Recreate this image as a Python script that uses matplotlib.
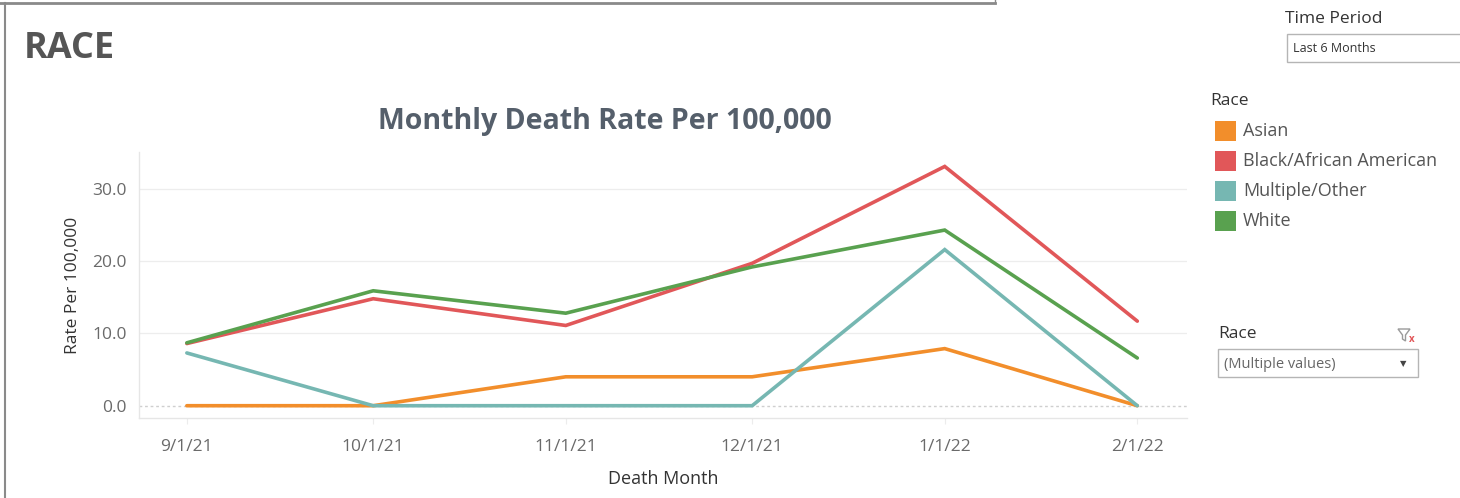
import matplotlib as mpl
mpl.use('Agg')
import matplotlib.pyplot as plt
from matplotlib.lines import Line2D
from matplotlib.patches import Rectangle, Polygon
import datetime as dt

plt.rcParams['font.family'] = ['Open Sans', 'DejaVu Sans']

# data
months = ['2021-09-01', '2021-10-01', '2021-11-01', '2021-12-01', '2022-01-01', '2022-02-01']
tickLabels = ['9/1/21', '10/1/21', '11/1/21', '12/1/21', '1/1/22', '2/1/22']
races = ['Asian', 'Black/African American', 'Multiple/Other', 'White']
asian = [0.0, 0.0, 4.0, 4.0, 7.9, 0.0]
black = [8.6, 14.8, 11.1, 19.7, 33.1, 11.7]
multiple = [7.3, 0.0, 0.0, 0.0, 21.6, 0.0]
white = [8.7, 15.9, 12.8, 19.2, 24.3, 6.6]
colors = ['#f28e2b', '#e15759', '#76b7b2', '#59a14f']

dates = [dt.datetime.strptime(m, '%Y-%m-%d') for m in months]

W, H = 1460.0, 498.0
def fx(px):
    return px / W
def fy(py):
    return 1 - py / H

fig = plt.figure(figsize=(14.6, 4.98), dpi=100)
ax = fig.add_axes([fx(139), fy(418), fx(1187 - 139), (418 - 152) / H])

for vals, c in zip([asian, black, multiple, white], colors):
    ax.plot(dates, vals, color=c, linewidth=2.6, solid_capstyle='round', solid_joinstyle='miter')

ax.set_ylim(-1.7, 35.1)
ax.set_xlim(dates[0] - dt.timedelta(days=7.7), dates[-1] + dt.timedelta(days=8))
ax.set_yticks([0, 10, 20, 30])
ax.set_yticklabels(['0.0', '10.0', '20.0', '30.0'])
ax.set_xticks(dates)
ax.set_xticklabels(tickLabels)
ax.tick_params(axis='y', length=0, pad=9, labelsize=12.5, labelcolor='#6a6a6a')
ax.tick_params(axis='x', length=4, color='#ececec', pad=11, labelsize=12.5, labelcolor='#6a6a6a')
for y in [10, 20, 30]:
    ax.axhline(y, color='#ededed', linewidth=0.9, zorder=0)
ax.axhline(0, color='#cfcfcf', linewidth=1.0, linestyle=(0, (2, 2)), zorder=0)
for s in ['top', 'right']:
    ax.spines[s].set_visible(False)
for s in ['left', 'bottom']:
    ax.spines[s].set_color('#e6e6e6')
    ax.spines[s].set_linewidth(1.0)

ax.set_ylabel('Rate Per 100,000', fontsize=12.5, color='#333333', labelpad=8)
ax.set_xlabel('Death Month', fontsize=13, color='#333333', labelpad=11)

# dashboard title and chart title
fig.text(fx(24), fy(49), 'RACE', fontsize=26, fontweight='bold', color='#555555', va='center')
fig.text(fx(605), fy(121), 'Monthly Death Rate Per 100,000', fontsize=20.5,
         fontweight='bold', color='#555f6b', ha='center', va='center')

# frame lines
fig.add_artist(Line2D([0, fx(995)], [fy(3), fy(3)], color='#8a8a8a', linewidth=2))
fig.add_artist(Line2D([fx(5), fx(5)], [0, fy(3)], color='#8a8a8a', linewidth=1.5))
fig.add_artist(Line2D([fx(995), fx(995)], [fy(3), 1], color='#8a8a8a', linewidth=1))

# legend
fig.text(fx(1210), fy(101), 'Race', fontsize=12.5, color='#333333', va='center')
for i, (r, c) in enumerate(zip(races, colors)):
    yc = 131 + 30 * i
    fig.add_artist(Rectangle((fx(1215), fy(yc + 10)), 21 / W, 20 / H, facecolor=c, edgecolor='none'))
    fig.text(fx(1243), fy(yc), r, fontsize=13, color='#555555', va='center')

# time period filter
fig.text(fx(1285), fy(19), 'Time Period', fontsize=12.5, color='#333333', va='center')
fig.add_artist(Rectangle((fx(1287), fy(62)), 180 / W, 28 / H,
                         facecolor='white', edgecolor='#b5b5b5', linewidth=1))
fig.text(fx(1293), fy(48), 'Last 6 Months', fontsize=9, color='#333333', va='center')

# race filter
fig.text(fx(1218), fy(334), 'Race', fontsize=12.5, color='#333333', va='center')
fig.add_artist(Polygon([(fx(1398), fy(329)), (fx(1410), fy(329)), (fx(1405.5), fy(335)),
                        (fx(1405.5), fy(341)), (fx(1402.5), fy(339)), (fx(1402.5), fy(335))],
                       closed=True, facecolor='none', edgecolor='#9a9a9a', linewidth=1))
fig.text(fx(1412), fy(339), 'x', fontsize=7, fontweight='bold', color='#e15759', ha='center', va='center')
fig.add_artist(Rectangle((fx(1218), fy(377)), 200 / W, 28 / H,
                         facecolor='white', edgecolor='#b5b5b5', linewidth=1))
fig.text(fx(1224), fy(364), '(Multiple values)', fontsize=10.5, color='#666666', va='center')
fig.text(fx(1403), fy(364), '\u25bc', fontsize=6, color='#444444', ha='center', va='center',
         family=['DejaVu Sans'])

fig.savefig('out.png', dpi=100)
